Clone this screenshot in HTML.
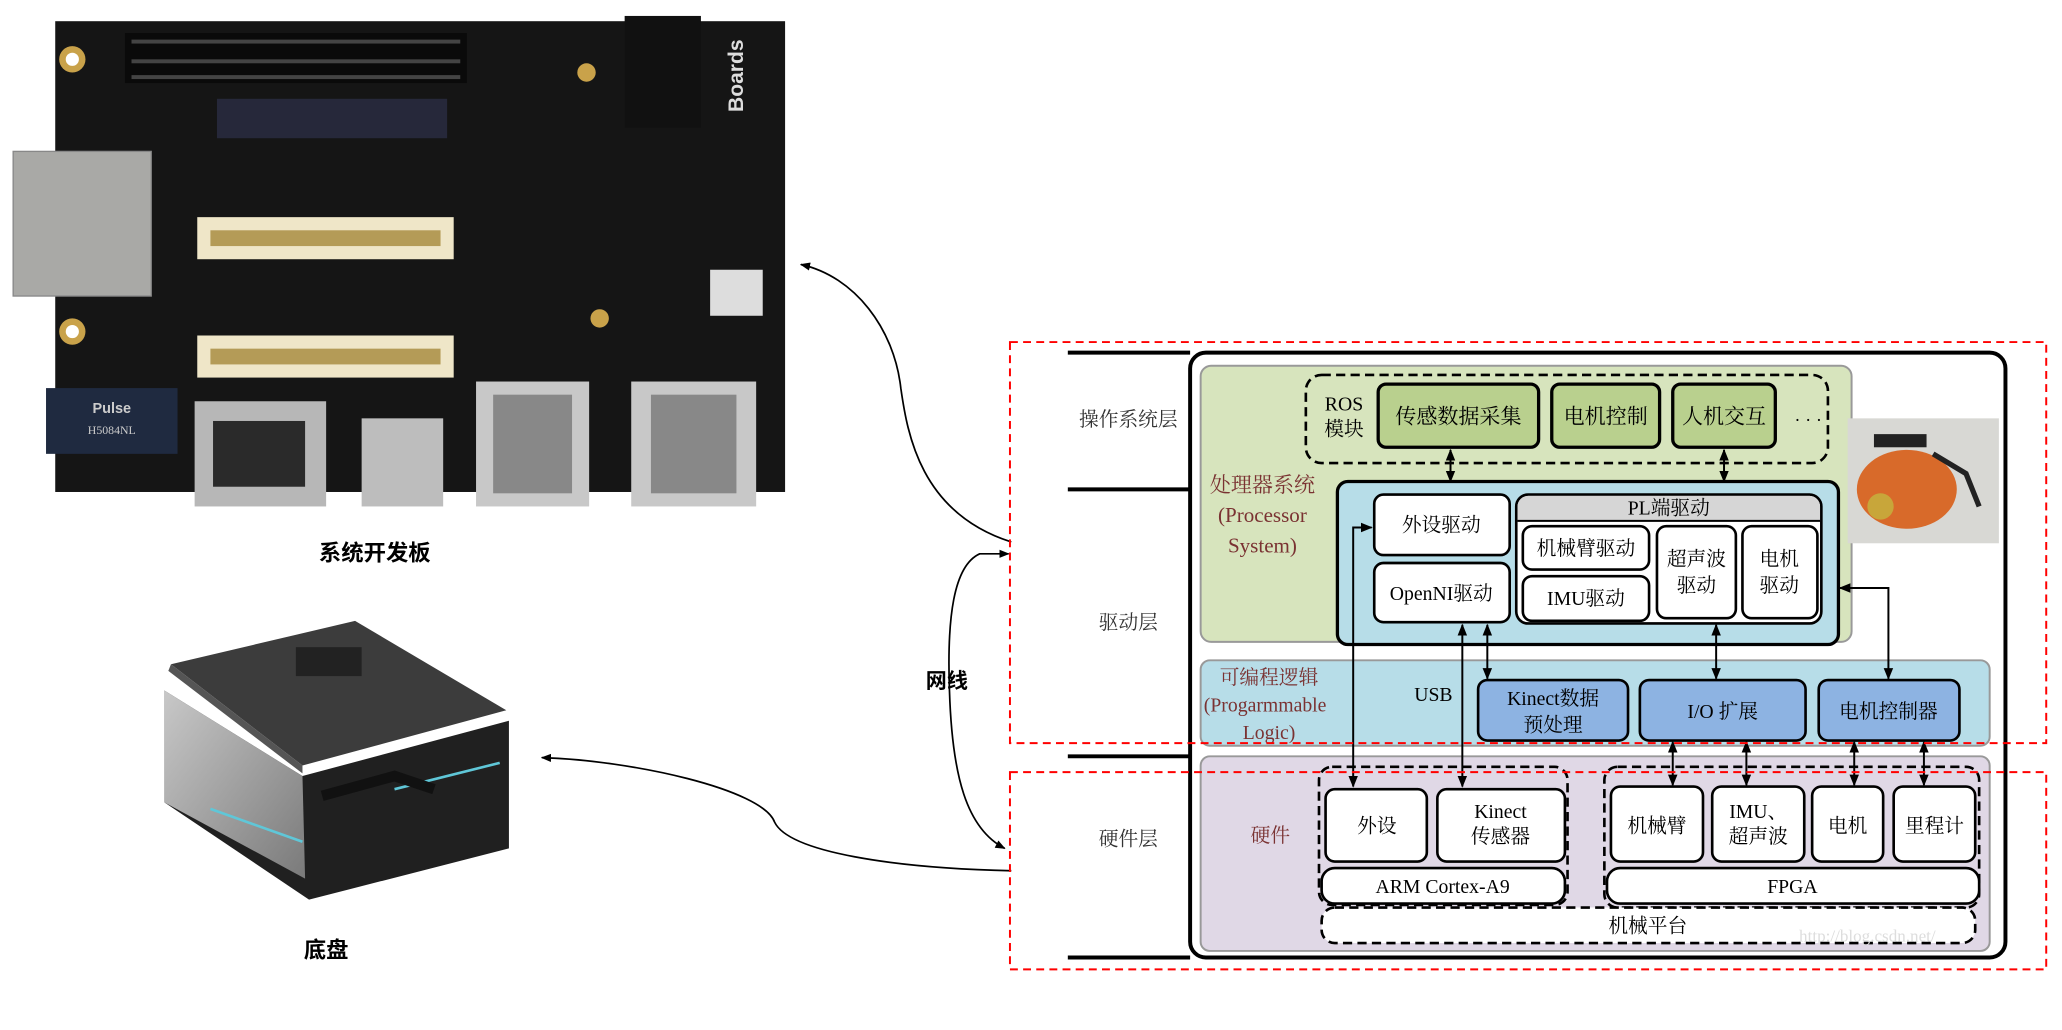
<!DOCTYPE html>
<html><head><meta charset="utf-8"><style>
html,body{margin:0;padding:0;background:#fff;}
svg{display:block;}
text{font-family:"Liberation Serif","Noto Serif CJK SC","Noto Sans CJK SC",serif;}
.b{font-family:"Liberation Sans","Noto Sans CJK SC",sans-serif;font-weight:bold;}
</style></head><body>
<svg width="2062" height="1030" viewBox="0 0 1568 783" xmlns="http://www.w3.org/2000/svg">
<defs>
<marker id="a" viewBox="0 0 10 10" refX="9" refY="5" markerWidth="6" markerHeight="6" orient="auto-start-reverse"><path d="M0,1 L10,5 L0,9 z" fill="#000"/></marker>
<linearGradient id="sv" x1="0" y1="0" x2="1" y2="1"><stop offset="0" stop-color="#c8c8c8"/><stop offset="1" stop-color="#7a7a7a"/></linearGradient>
</defs>

<!-- Board photo -->
<rect x="42" y="16" width="555" height="358" fill="#151515"/>
<rect x="475" y="12" width="58" height="85" fill="#111"/>
<rect x="10" y="115" width="105" height="110" fill="#a9a9a6" stroke="#888"/>
<rect x="95" y="25" width="260" height="38" fill="#0a0a0a"/>
<g fill="#444"><rect x="100" y="30" width="250" height="3"/><rect x="100" y="45" width="250" height="3"/><rect x="100" y="57" width="250" height="3"/></g>
<rect x="165" y="75" width="175" height="30" fill="#26283a"/>
<rect x="150" y="165" width="195" height="32" fill="#efe6c8"/>
<rect x="160" y="175" width="175" height="12" fill="#b49b57"/>
<rect x="150" y="255" width="195" height="32" fill="#efe6c8"/>
<rect x="160" y="265" width="175" height="12" fill="#b49b57"/>
<rect x="35" y="295" width="100" height="50" fill="#1f2a40"/>
<text x="85" y="314" font-size="11" fill="#ccc" text-anchor="middle" class="b">Pulse</text>
<text x="85" y="330" font-size="9" fill="#ccc" text-anchor="middle">H5084NL</text>
<rect x="148" y="305" width="100" height="80" fill="#b7b7b7"/>
<rect x="162" y="320" width="70" height="50" fill="#2a2a2a"/>
<rect x="275" y="318" width="62" height="67" fill="#bdbdbd"/>
<rect x="362" y="290" width="86" height="95" fill="#c8c8c8"/>
<rect x="480" y="290" width="95" height="95" fill="#c8c8c8"/>
<rect x="375" y="300" width="60" height="75" fill="#888"/>
<rect x="495" y="300" width="65" height="75" fill="#888"/>
<rect x="540" y="205" width="40" height="35" fill="#ddd"/>
<text x="565" y="85" font-size="16" fill="#ddd" class="b" transform="rotate(-90 565 85)">Boards</text>
<circle cx="55" cy="45" r="10" fill="#c9a24a"/><circle cx="55" cy="45" r="5" fill="#fff"/>
<circle cx="55" cy="252" r="10" fill="#c9a24a"/><circle cx="55" cy="252" r="5" fill="#fff"/>
<circle cx="446" cy="55" r="7" fill="#c9a24a"/><circle cx="456" cy="242" r="7" fill="#c9a24a"/>
<text x="285" y="426" font-size="17" class="b" text-anchor="middle">系统开发板</text>

<!-- Chassis photo -->
<polygon points="125,525 230,590 387,548 387,645 235,684 125,610" fill="#202020"/>
<polygon points="125,525 230,590 232,668 125,610" fill="url(#sv)"/>
<polygon points="130,505 270,472 385,540 230,582" fill="#3c3c3c"/>
<polygon points="130,505 230,582 230,588 128,510" fill="#555"/>
<rect x="225" y="492" width="50" height="22" fill="#222"/>
<path d="M160,615 L230,640 M300,600 L380,580" stroke="#5fc7d8" stroke-width="2" fill="none"/>
<path d="M245,605 L300,590 L330,600" stroke="#111" stroke-width="8" fill="none"/>
<text x="248" y="728" font-size="17" class="b" text-anchor="middle">底盘</text>

<!-- connectors -->
<path d="M769,412 C700,390 690,330 685,295 C680,250 650,210 609,201" fill="none" stroke="#000" stroke-width="1.3" marker-end="url(#a)"/>
<path d="M767,421 L745,421 C725,430 720,470 722,525 C724,590 735,630 764,645" fill="none" stroke="#000" stroke-width="1.3" marker-start="url(#a)" marker-end="url(#a)"/>
<path d="M769,662 C680,660 600,648 589,625 C580,600 480,578 412,576" fill="none" stroke="#000" stroke-width="1.3" marker-end="url(#a)"/>
<text x="720" y="523" font-size="16" class="b" text-anchor="middle">网线</text>

<!-- diagram -->
<g stroke="#000" stroke-width="3"><line x1="812" y1="268" x2="905" y2="268"/><line x1="812" y1="372" x2="905" y2="372"/><line x1="812" y1="575" x2="905" y2="575"/><line x1="812" y1="728" x2="905" y2="728"/></g>
<rect x="905" y="268" width="620" height="460" rx="12" fill="#fff" stroke="#000" stroke-width="3"/>
<g font-size="15" fill="#333" text-anchor="middle"><text x="858" y="324">操作系统层</text><text x="858" y="478">驱动层</text><text x="858" y="643">硬件层</text></g>

<rect x="913" y="278" width="495" height="210" rx="8" fill="#d7e4bd" stroke="#999" stroke-width="1.5"/>
<rect x="993" y="285" width="397" height="67" rx="12" fill="none" stroke="#000" stroke-width="2" stroke-dasharray="7,4"/>
<text x="1022" y="312" font-size="15" text-anchor="middle">ROS</text><text x="1022" y="331" font-size="15" text-anchor="middle">模块</text>
<g fill="#b9d08e" stroke="#000" stroke-width="2.5">
<rect x="1048" y="292" width="122" height="48" rx="6"/><rect x="1180" y="292" width="82" height="48" rx="6"/><rect x="1272" y="292" width="78" height="48" rx="6"/></g>
<g font-size="16" text-anchor="middle"><text x="1109" y="322">传感数据采集</text><text x="1221" y="322">电机控制</text><text x="1311" y="322">人机交互</text></g>
<text x="1375" y="324" font-size="14" text-anchor="middle">· · ·</text>
<g font-size="16" fill="#7a3232" text-anchor="middle"><text x="960" y="374">处理器系统</text><text x="960" y="397">(Processor</text><text x="960" y="420">System)</text></g>

<rect x="1017" y="366" width="381" height="124" rx="8" fill="#b7dde8" stroke="#000" stroke-width="2.5"/>
<g fill="#fff" stroke="#000" stroke-width="2">
<rect x="1045" y="376" width="103" height="46" rx="7"/><rect x="1045" y="428" width="103" height="45" rx="7"/>
<rect x="1153" y="376" width="232" height="98" rx="9"/></g>
<path d="M1162,377 H1376 A8,8 0 0 1 1384,385 V396 H1154 V385 A8,8 0 0 1 1162,377Z" fill="#d6d6d6"/>
<line x1="1154" y1="396" x2="1384" y2="396" stroke="#000" stroke-width="1.5"/>
<g fill="#fff" stroke="#000" stroke-width="2">
<rect x="1158" y="400" width="96" height="33" rx="7"/><rect x="1158" y="438" width="96" height="34" rx="7"/>
<rect x="1260" y="400" width="60" height="70" rx="7"/><rect x="1325" y="400" width="57" height="70" rx="7"/></g>
<g font-size="15" text-anchor="middle">
<text x="1096" y="404">外设驱动</text><text x="1096" y="456">OpenNI驱动</text><text x="1269" y="391">PL端驱动</text>
<text x="1206" y="422">机械臂驱动</text><text x="1206" y="460">IMU驱动</text>
<text x="1290" y="430">超声波</text><text x="1290" y="450">驱动</text><text x="1353" y="430">电机</text><text x="1353" y="450">驱动</text></g>

<!-- robot photo -->
<rect x="1405" y="318" width="115" height="95" fill="#d8d8d4"/>
<ellipse cx="1450" cy="372" rx="38" ry="30" fill="#d86a2a"/>
<rect x="1425" y="330" width="40" height="10" fill="#222"/>
<circle cx="1430" cy="385" r="10" fill="#c8a63a"/>
<path d="M1470,345 L1495,360 L1505,385" stroke="#222" stroke-width="4" fill="none"/>

<rect x="913" y="502" width="600" height="65" rx="7" fill="#b7dde8" stroke="#999" stroke-width="1.5"/>
<g font-size="15" fill="#7a3232" text-anchor="middle"><text x="965" y="520">可编程逻辑</text><text x="962" y="541">(Progarmmable</text><text x="965" y="562">Logic)</text></g>
<text x="1090" y="533" font-size="15" text-anchor="middle">USB</text>
<g fill="#8db3e2" stroke="#000" stroke-width="2">
<rect x="1124" y="517" width="114" height="46" rx="7"/><rect x="1247" y="517" width="126" height="46" rx="7"/><rect x="1383" y="517" width="107" height="46" rx="7"/></g>
<g font-size="15" text-anchor="middle"><text x="1181" y="536">Kinect数据</text><text x="1181" y="556">预处理</text><text x="1310" y="546">I/O 扩展</text><text x="1436" y="546">电机控制器</text></g>

<rect x="913" y="575" width="600" height="148" rx="7" fill="#e0d8e6" stroke="#999" stroke-width="1.5"/>
<text x="966" y="640" font-size="15" fill="#7a3232" text-anchor="middle">硬件</text>
<rect x="1003" y="583" width="189" height="105" rx="10" fill="none" stroke="#000" stroke-width="2" stroke-dasharray="7,4"/>
<rect x="1220" y="583" width="285" height="107" rx="10" fill="none" stroke="#000" stroke-width="2" stroke-dasharray="7,4"/>
<g fill="#fff" stroke="#000" stroke-width="2">
<rect x="1008" y="600" width="77" height="55" rx="7"/><rect x="1093" y="600" width="97" height="55" rx="7"/>
<rect x="1005" y="660" width="185" height="27" rx="10"/>
<rect x="1225" y="598" width="70" height="57" rx="7"/><rect x="1302" y="598" width="70" height="57" rx="7"/>
<rect x="1378" y="598" width="54" height="57" rx="7"/><rect x="1440" y="598" width="62" height="57" rx="7"/>
<rect x="1222" y="660" width="283" height="27" rx="10"/></g>
<rect x="1005" y="690" width="497" height="27" rx="10" fill="#fff" stroke="#000" stroke-width="2" stroke-dasharray="7,4"/>
<g font-size="15" text-anchor="middle">
<text x="1047" y="633">外设</text><text x="1141" y="622">Kinect</text><text x="1141" y="641">传感器</text>
<text x="1097" y="679">ARM Cortex-A9</text>
<text x="1260" y="633">机械臂</text><text x="1337" y="622">IMU、</text><text x="1337" y="641">超声波</text>
<text x="1405" y="633">电机</text><text x="1471" y="633">里程计</text>
<text x="1363" y="679">FPGA</text><text x="1253" y="709">机械平台</text></g>
<text x="1420" y="716" font-size="13" fill="#ddd" text-anchor="middle">http://blog.csdn.net/</text>

<!-- internal arrows -->
<g stroke="#000" stroke-width="1.5" fill="none">
<line x1="1103" y1="342" x2="1103" y2="366" marker-start="url(#a)" marker-end="url(#a)"/>
<line x1="1311" y1="342" x2="1311" y2="366" marker-start="url(#a)" marker-end="url(#a)"/>
<path d="M1043,401 H1029 V598" marker-start="url(#a)" marker-end="url(#a)"/>
<line x1="1112" y1="475" x2="1112" y2="598" marker-start="url(#a)" marker-end="url(#a)"/>
<line x1="1131" y1="475" x2="1131" y2="516" marker-start="url(#a)" marker-end="url(#a)"/>
<line x1="1305" y1="475" x2="1305" y2="516" marker-start="url(#a)" marker-end="url(#a)"/>
<path d="M1399,447 H1436 V516" marker-start="url(#a)" marker-end="url(#a)"/>
<line x1="1272" y1="564" x2="1272" y2="597" marker-start="url(#a)" marker-end="url(#a)"/>
<line x1="1328" y1="564" x2="1328" y2="597" marker-start="url(#a)" marker-end="url(#a)"/>
<line x1="1410" y1="564" x2="1410" y2="597" marker-start="url(#a)" marker-end="url(#a)"/>
<line x1="1463" y1="564" x2="1463" y2="597" marker-start="url(#a)" marker-end="url(#a)"/>
</g>

<!-- red dashed boxes -->
<rect x="768" y="260" width="788" height="305" fill="none" stroke="#f00" stroke-width="1.5" stroke-dasharray="6,4"/>
<rect x="768" y="587" width="788" height="150" fill="none" stroke="#f00" stroke-width="1.5" stroke-dasharray="6,4"/>
</svg>
</body></html>
